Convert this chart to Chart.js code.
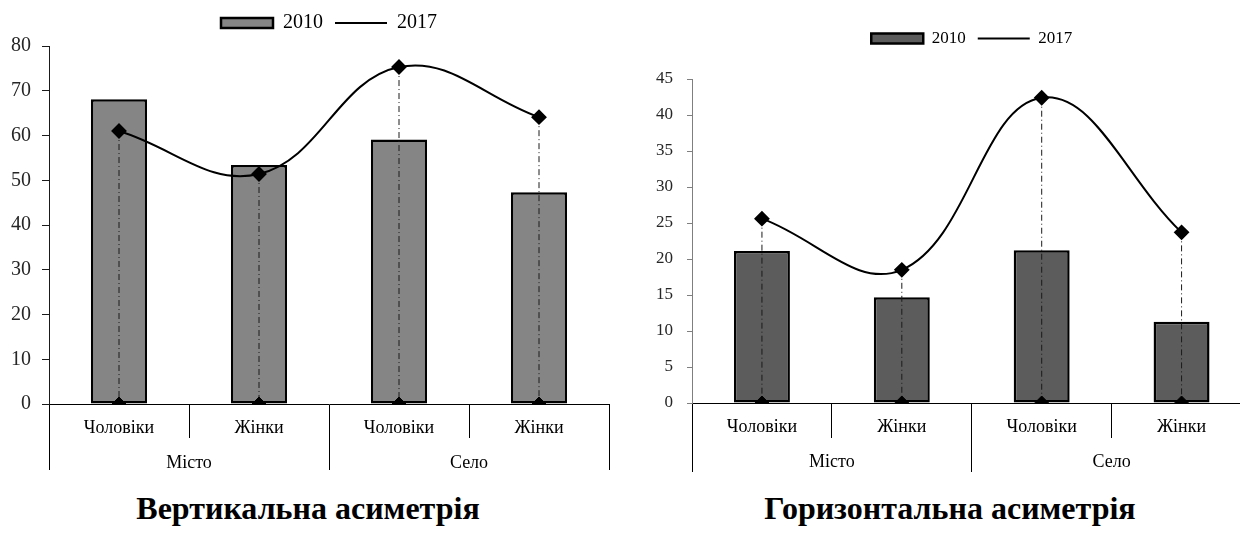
<!DOCTYPE html>
<html lang="uk">
<head>
<meta charset="utf-8">
<title>Вертикальна і горизонтальна асиметрія</title>
<script src="https://cdn.jsdelivr.net/npm/chart.js@4.4.1/dist/chart.umd.min.js"></script>
<style>
    html, body { margin: 0; padding: 0; background: #fff; }
    body { position: relative; width: 1240px; height: 533px; overflow: hidden; font-family: "Liberation Serif", "Times New Roman", serif; }
    .box { position: absolute; top: 0; height: 480px; }
    #left-box { left: 0; width: 620px; }
    #right-box { left: 620px; width: 640px; }
    .caption { position: absolute; top: 492px; width: 440px; text-align: center; font-weight: bold; font-size: 32px; line-height: 32px; color: #000; }
    #left-caption { left: 88px; }
    #right-caption { left: 730px; }
</style>
</head>
<body>
<div class="box" id="left-box"><canvas id="vertical-graph"></canvas></div>
<div class="box" id="right-box"><canvas id="horizontal-graph"></canvas></div>
<div class="caption" id="left-caption">Вертикальна асиметрія</div>
<div class="caption" id="right-caption">Горизонтальна асиметрія</div>
<script>
const categories = ['Чоловіки', 'Жінки', 'Чоловіки', 'Жінки'];
const groups = ['Місто', 'Село'];
const seriesNames = ['2010', '2017'];

// вертикальна асиметрія
const vertical2010 = [68.1, 53.4, 59.1, 47.3];
const vertical2017 = [61.0, 51.4, 75.3, 64.1];
const verticalTicks = [0, 10, 20, 30, 40, 50, 60, 70, 80];

// горизонтальна асиметрія
const horizontal2010 = [21.1, 14.7, 21.2, 11.3];
const horizontal2017 = [25.6, 18.5, 42.4, 23.7];
const horizontalTicks = [0, 5, 10, 15, 20, 25, 30, 35, 40, 45];

Chart.defaults.font.family = '"Liberation Serif", "Times New Roman", serif';
Chart.defaults.color = '#1a1a1a';

// extra space under the legend
const legendGap = (extra) => ({
    id: 'legendGap',
    beforeInit(chart) {
        const fitValue = chart.legend.fit;
        chart.legend.fit = function fit() {
            fitValue.bind(chart.legend)();
            this.height += extra;
        };
    }
});

const makeChart = (canvasId, bars, line, ticks, look) => {
    // dash-dot drop lines from every 2017 point to zero
    const dropLines = line.map((value, i) => ({
        type: 'line',
        data: [{ x: i, y: value }, { x: i, y: 0 }],
        xAxisID: 'xd',
        borderColor: '#1a1a1a',
        borderWidth: 1,
        borderDash: [6, 3, 1, 3],
        pointStyle: 'rectRot',
        pointRadius: [0, 7],
        pointBackgroundColor: '#000',
        pointBorderColor: '#000',
        clip: 0,
        order: 2,
    }));

    return new Chart(document.getElementById(canvasId), {
        type: 'bar',
        data: {
            labels: categories,
            datasets: [{
                label: seriesNames[0],
                data: bars,
                backgroundColor: look.barColor,
                borderColor: '#000',
                borderWidth: 2.5,
                borderSkipped: false,
                grouped: false,
                barPercentage: 0.4,
                categoryPercentage: 1,
                order: 3,
            }, {
                type: 'line',
                label: seriesNames[1],
                data: line,
                borderColor: '#000',
                borderWidth: 2,
                tension: 0.4,
                pointStyle: 'rectRot',
                pointRadius: 6.5,
                pointBackgroundColor: '#000',
                pointBorderColor: '#000',
                order: 1,
            }, ...dropLines]
        },
        options: {
            responsive: true,
            maintainAspectRatio: false,
            animation: false,
            events: [],
            layout: { padding: look.padding },
            plugins: {
                tooltip: { enabled: false },
                legend: {
                    position: 'top',
                    fullSize: false,
                    labels: {
                        usePointStyle: true,
                        pointStyleWidth: 52,
                        boxHeight: 10,
                        padding: 12,
                        color: '#000',
                        font: { size: look.legendFont },
                        sort: (a, b) => a.datasetIndex - b.datasetIndex,
                        generateLabels(chart) {
                            const items = Chart.defaults.plugins.legend.labels.generateLabels(chart);
                            return items.filter(item => item.datasetIndex < 2).map(item => {
                                if (item.datasetIndex === 0) {
                                    item.pointStyle = 'rect';
                                    item.fillStyle = look.barColor;
                                    item.strokeStyle = '#000';
                                    item.lineWidth = 2.5;
                                } else {
                                    item.pointStyle = 'line';
                                    item.strokeStyle = '#000';
                                    item.lineWidth = 2;
                                }
                                return item;
                            });
                        }
                    }
                }
            },
            scales: {
                x: {
                    type: 'category',
                    offset: true,
                    grid: { offset: true, drawOnChartArea: false, color: '#000', tickLength: look.axis1.h },
                    border: { color: '#000', width: 1 },
                    ticks: { autoSkip: false, maxRotation: 0, color: '#000', padding: look.axis1.pad, font: { size: look.catFont } },
                    afterFit: (scale) => { scale.height = look.axis1.h; },
                },
                groups: {
                    type: 'category',
                    position: 'bottom',
                    labels: groups,
                    weight: 1,
                    offset: true,
                    grid: { offset: true, drawOnChartArea: false, color: '#000', tickLength: look.axis2.h },
                    border: { display: false },
                    ticks: { autoSkip: false, maxRotation: 0, color: '#000', padding: look.axis2.pad, font: { size: look.catFont } },
                    afterFit: (scale) => { scale.height = look.axis2.h; },
                },
                xd: {
                    type: 'linear',
                    display: false,
                    offset: false,
                    grid: { offset: false },
                    min: -0.5,
                    max: categories.length - 0.5,
                },
                y: {
                    min: ticks[0],
                    max: ticks[ticks.length - 1],
                    grid: { drawOnChartArea: false, color: look.yColor, tickLength: look.yTick },
                    border: { color: look.yColor, width: 1 },
                    ticks: { stepSize: ticks[1] - ticks[0], color: '#262626', padding: look.yPad, font: { size: look.tickFont } },
                    afterFit: (scale) => { scale.width = look.yWidth; },
                }
            }
        },
        plugins: [legendGap(look.legendGap)]
    });
};

makeChart('vertical-graph', vertical2010, vertical2017, verticalTicks, {
    barColor: '#858585',
    yColor: '#1a1a1a',
    tickFont: 20,
    legendFont: 20,
    catFont: 18,
    yWidth: 49,
    yTick: 7,
    yPad: 11,
    legendGap: 3,
    padding: { top: 1, right: 11, bottom: 10, left: 0 },
    axis1: { h: 34, pad: -21 },
    axis2: { h: 32, pad: -18 },
});

makeChart('horizontal-graph', horizontal2010, horizontal2017, horizontalTicks, {
    barColor: '#5c5c5c',
    yColor: '#7f7f7f',
    tickFont: 17,
    legendFont: 17,
    catFont: 18,
    yWidth: 72,
    yTick: 5,
    yPad: 14,
    legendGap: 22,
    padding: { top: 18, right: 8, bottom: 8, left: 0 },
    axis1: { h: 35, pad: -22 },
    axis2: { h: 34, pad: -21 },
});
</script>
</body>
</html>
